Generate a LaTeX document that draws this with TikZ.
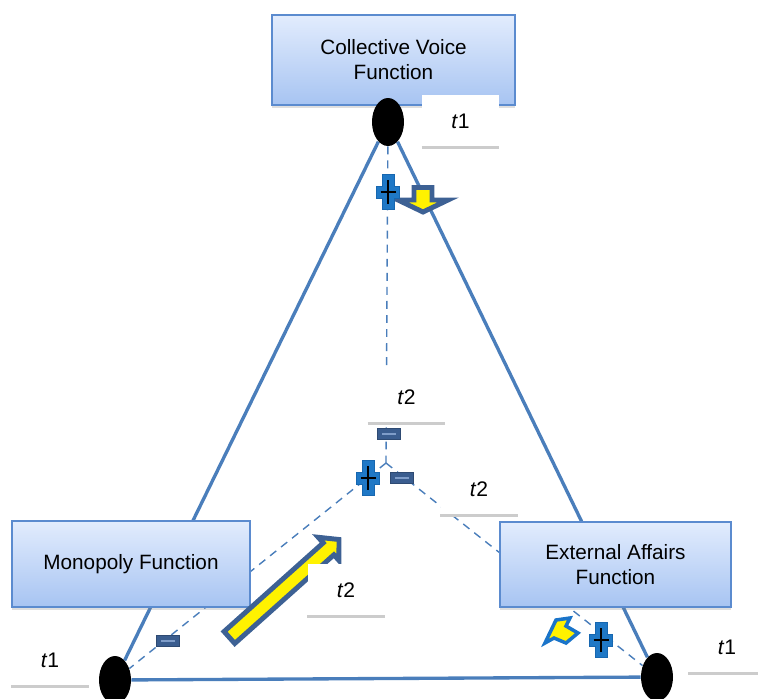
\documentclass[tikz,border=0pt]{standalone}
\usepackage{fontspec}
\setmainfont{Liberation Sans}
\usetikzlibrary{shapes.geometric,shadows}

\definecolor{lineblue}{HTML}{4A7EBB}
\definecolor{boxblue}{HTML}{5B8BCF}
\definecolor{boxtop}{HTML}{E2ECFD}
\definecolor{boxbottom}{HTML}{A7C4F2}
\definecolor{labelgray}{HTML}{CCCCCC}
\definecolor{arrowblue}{HTML}{3D6194}
\definecolor{brightblue}{HTML}{1A74C9}
\definecolor{plusblue}{HTML}{1F78C6}
\definecolor{plusedge}{HTML}{1767B0}
\definecolor{minusblue}{HTML}{3A5D8F}
\definecolor{minusline}{HTML}{7F9DC9}

\pgfdeclarelayer{background}
\pgfsetlayers{background,main}

\tikzset{
  funcbox/.style={rectangle, draw=boxblue, line width=1.1pt,
    top color=boxtop, bottom color=boxbottom, align=center,
    font=\fontsize{11.8}{14.2}\selectfont,
    drop shadow={opacity=0.25, shadow xshift=0pt, shadow yshift=-1.5pt}},
  vertex/.style={ellipse, fill=black, minimum width=0.64cm,
    minimum height=0.96cm, inner sep=0pt},
  side/.style={draw=lineblue, line width=1.9pt},
  link/.style={draw=lineblue, line width=0.8pt, dash pattern=on 4.5pt off 3.5pt},
  tline/.style={draw=labelgray, line width=1.7pt},
  tlabel/.style={rectangle, fill=white, minimum width=1.54cm,
    minimum height=1.04cm, inner sep=0pt, font=\fontsize{12}{14}\selectfont,
    append after command={(\tikzlastnode.south west) edge[tline] (\tikzlastnode.south east)}},
  arrowbox/.style={fill=yellow, draw=arrowblue, line width=2.8pt, line join=miter},
  pics/plussign/.style={code={
    \filldraw[fill=plusblue, draw=plusedge, line width=0.4pt]
      (-6,-17.5) -- (6,-17.5) -- (6,-6) -- (11.5,-6) -- (11.5,6) -- (6,6)
      -- (6,17.5) -- (-6,17.5) -- (-6,6) -- (-11.5,6) -- (-11.5,-6) -- (-6,-6) -- cycle;
    \draw[line width=0.6pt] (-7.5,0) -- (7.5,0) (0,-12) -- (0,12);
  }},
  pics/minussign/.style={code={
    \filldraw[fill=minusblue, draw=minusblue!80!black, line width=0.4pt]
      (-11.5,-5.5) rectangle (11.5,5.5);
    \draw[minusline, line width=0.6pt] (-7,0) -- (7,0);
  }}
}

% tip, angle, length, shaft half width, head half width, head length
\newcommand{\blockarrow}[6]{%
  \draw[arrowbox, shift={#1}, rotate=#2] (0,0) -- (-#6,#5) -- (-#6,#4) -- (-#3,#4)
    -- (-#3,-#4) -- (-#6,-#4) -- (-#6,-#5) -- cycle;}

\begin{document}
\begin{tikzpicture}[x=0.02cm, y=-0.02cm]
  \useasboundingbox (0,0) rectangle (758,698);
  \clip (0,0) rectangle (758,698);

  % functions
  \node[funcbox, minimum width=4.86cm, minimum height=1.8cm] (voice) at (393.5,60)
    {Collective Voice\\Function};
  \node[funcbox, minimum width=4.76cm, minimum height=1.72cm] (monopoly) at (131,564)
    {Monopoly Function};
  \node[funcbox, minimum width=4.62cm, minimum height=1.7cm] (external) at (615.5,564.5)
    {External Affairs\\Function};

  % arrows
  \blockarrow{(423,212)}{-90}{24.5}{9}{25}{12}
  \blockarrow{(339,539.5)}{41.8}{147}{8}{15.5}{14}
  \draw[fill=yellow, draw=brightblue, line width=2pt, line join=miter]
    (545,643) -- (556,620) -- (570,618) -- (566,626) -- (578,633)
    -- (566,643) -- (554,638) -- cycle;

  % time labels
  \node[tlabel] (t1top) at (460.5,121) {\textit{t}1};
  \node[tlabel] (t2mid) at (406.5,397) {\textit{t}2};
  \node[tlabel] (t2right) at (479,489) {\textit{t}2};
  \node[tlabel] (t2low) at (346,590) {\textit{t}2};
  \node[tlabel] (t1left) at (50,660) {\textit{t}1};
  \node[tlabel] (t1right) at (727,647) {\textit{t}1};

  % vertices
  \node[vertex] (dotT) at (388,122) {};
  \node[vertex] (dotL) at (115,680) {};
  \node[vertex] (dotR) at (657,677) {};
  \coordinate (mid) at (386,463);

  \begin{pgfonlayer}{background}
    \draw[side] (dotT) -- (dotL) -- (dotR) -- (dotT);
    \draw[link] (dotT) -- (mid);
    \draw[link] (mid) -- (dotL);
    \draw[link] (mid) -- (dotR);
  \end{pgfonlayer}

  % signs
  \pic at (388,192) {plussign};
  \pic at (368,478) {plussign};
  \pic at (601,640) {plussign};
  \pic at (389,434) {minussign};
  \pic at (402,478) {minussign};
  \pic at (168,641) {minussign};
\end{tikzpicture}
\end{document}
